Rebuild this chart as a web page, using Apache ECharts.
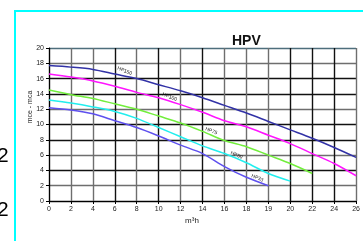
<!DOCTYPE html>
<html>
<head>
<meta charset="utf-8">
<script src="https://cdn.jsdelivr.net/npm/echarts@6/dist/echarts.min.js"></script>
<style>
	html,body{margin:0;padding:0;background:#fff;}
	#main{width:363px;height:241px;}
</style>
</head>
<body>
<div id="main"></div>
<script type="text/javascript">
	// m3/h values of the curve points
	var flow = [0,2,4,6,8,10,12,14,16,18,19,20,22,24,26];
	// x tick labels (axis is not linear after 18)
	var xLabels = ["0","2","4","6","8","10","12","14","16","18","19","20","22","24","26"];
	var hp150 = [17.7,17.5,17.2,16.6,16.0,15.2,14.4,13.5,12.5,11.5,10.4,9.3,8.2,7.0,5.7];
	var hp100 = [16.6,16.2,15.7,15.0,14.2,13.5,12.6,11.6,10.5,9.7,8.6,7.5,6.2,4.9,3.3];
	var hp75 = [14.5,13.9,13.4,12.7,12.0,11.1,10.2,9.1,7.9,7.1,6.0,4.9,3.6];
	var hp50 = [13.2,12.8,12.3,11.7,10.8,9.6,8.4,7.2,6.2,5.0,3.6,2.6];
	var hp33 = [12.2,11.9,11.4,10.5,9.6,8.5,7.3,6.2,4.5,3.1,2.0];
	var names = ["HP150","HP100","HP75","HP50","HP33"];
	// where each curve name sits: [flow, head]
	var namePos = [[6.9,17.0],[11.0,13.6],[14.8,9.15],[17.1,6.0],[18.5,3.0]];

	var colors = ["#3232a6","#ff14ff","#72ee3c","#22eeee","#5e50ee"];

	//flow -> position on the drawn axis
	function pos(f){
		if(f<=18)return f;
		if(f<=19)return 18+(f-18)*2;
		if(f<=20)return 20+(f-19)*2;
		return f+2;
	}

	function build(vals){
		var arr = [];
		vals.forEach(function(v,i){
			arr.push([pos(flow[i]),v]);
		});
		return arr;
	}

	var G = "#6e6e6e", K = "#111";
	var ySplit = [K,G,K,G,K,K,G,K,K,G,"#4e6e7c"];
	var xSplit = [K,G,G,K,G,K,G,K,G,G,G,K,K,K,G];

	var seriesData = [hp150,hp100,hp75,hp50,hp33];
	var series = [];
	seriesData.forEach(function(el,index){
		series.push({
			name:names[index],
			type:'line',
			data:build(el),
			smooth:0.3,
			symbol:'none',
			lineStyle:{color:colors[index],width:1.5},
			z:3,
			markPoint:{
				symbol:'circle',
				symbolSize:0,
				data:[{
					coord:[pos(namePos[index][0]),namePos[index][1]],
					label:{
						show:true,
						formatter:names[index],
						rotate:-22,
						fontSize:5,
						color:'#111',
						fontFamily:'Liberation Sans',
						position:'inside'
					}
				}]
			}
		});
	});

	var myChart = echarts.init(document.getElementById("main"));
	var option = {
		animation:false,
		title:{
			text:'HPV',
			left:227,
			top:29,
			textStyle:{fontSize:14,fontWeight:'bold',color:'#111',fontFamily:'Liberation Sans'}
		},
		grid:{left:49,right:1,top:48,bottom:40,containLabel:false},
		xAxis:{
			type:'value',
			min:0,max:28,interval:2,
			axisLine:{show:true,lineStyle:{color:'#000',width:1}},
			axisTick:{show:true,length:3,lineStyle:{color:'#000'}},
			axisLabel:{
				fontSize:7,color:'#222',margin:5,fontFamily:'Liberation Sans',
				showMaxLabel:true,
				formatter:function(v){return xLabels[v/2];}
			},
			splitLine:{show:true,lineStyle:{color:xSplit,width:1.4}}
		},
		yAxis:{
			type:'value',
			min:0,max:20,interval:2,
			axisLine:{show:true,lineStyle:{color:'#000',width:1}},
			axisTick:{show:true,length:3,lineStyle:{color:'#000'}},
			axisLabel:{fontSize:7,color:'#222',margin:5,fontFamily:'Liberation Sans'},
			splitLine:{show:true,lineStyle:{color:ySplit,width:1.4}}
		},
		graphic:[
			{type:'line',shape:{x1:15,y1:10,x2:15,y2:241},style:{stroke:'#00ffff',lineWidth:2}},
			{type:'line',shape:{x1:14,y1:11,x2:363,y2:11},style:{stroke:'#00ffff',lineWidth:2}},
			{type:'text',left:-3,top:146,style:{text:'2',fontSize:21,fill:'#000',fontFamily:'Liberation Sans'}},
			{type:'text',left:-3,top:200,style:{text:'2',fontSize:21,fill:'#000',fontFamily:'Liberation Sans'}},
			{type:'text',x:30,y:107,rotation:Math.PI/2,style:{text:'mce - mca',fontSize:7,fill:'#222',fontFamily:'Liberation Sans',align:'center',verticalAlign:'middle'}},
			{type:'text',x:192,y:221,style:{text:'m³h',fontSize:8,fill:'#222',fontFamily:'Liberation Sans',align:'center',verticalAlign:'middle'}}
		],
		series:series
	};
	myChart.setOption(option);
</script>
</body>
</html>
